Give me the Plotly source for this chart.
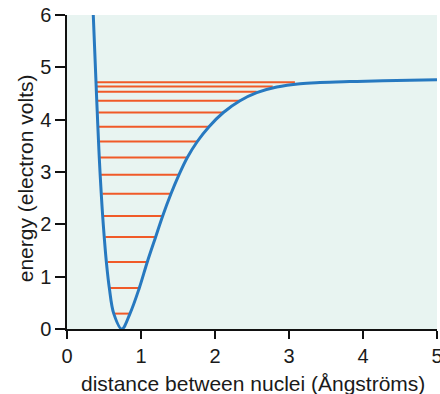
import plotly.graph_objects as go

# Potential energy curve
curve_x = [0.355, 0.392, 0.397, 0.402, 0.409, 0.417, 0.426, 0.436, 0.448, 0.463, 0.482,
           0.503, 0.532, 0.572, 0.632, 0.74, 0.851, 0.977, 1.085, 1.198, 1.293, 1.405,
           1.514, 1.626, 1.761, 1.919, 2.113, 2.338, 2.564, 2.834, 3.149, 3.419, 3.82,
           4.27, 5.0]
curve_y = [6.00, 4.714, 4.535, 4.361, 4.137, 3.866, 3.583, 3.277, 2.949, 2.583, 2.159,
           1.758, 1.280, 0.783, 0.294, 0.00, 0.294, 0.783, 1.280, 1.758, 2.159, 2.583,
           2.949, 3.277, 3.583, 3.866, 4.137, 4.361, 4.516, 4.624, 4.688, 4.71, 4.727,
           4.742, 4.765]

# Vibrational energy levels (energy, left end, right end)
level_e = [0.294, 0.783, 1.280, 1.758, 2.159, 2.583, 2.949, 3.277, 3.583, 3.866,
           4.137, 4.361, 4.535, 4.634, 4.714]
level_x0 = [0.64, 0.581, 0.55, 0.518, 0.495, 0.477, 0.459, 0.446, 0.44, 0.432,
            0.423, 0.414, 0.405, 0.40, 0.40]
level_x1 = [0.851, 0.977, 1.085, 1.198, 1.293, 1.405, 1.514, 1.626, 1.761, 1.919,
            2.113, 2.338, 2.563, 2.78, 3.08]

x_ticks = [0, 1, 2, 3, 4, 5]
y_ticks = [0, 1, 2, 3, 4, 5, 6]
x_title = "distance between nuclei (Ångströms)"
y_title = "energy (electron volts)"

lx, ly = [], []
for e, a, b in zip(level_e, level_x0, level_x1):
    lx += [a, b, None]
    ly += [e, e, None]

fig = go.Figure()
fig.add_trace(go.Scatter(x=lx, y=ly, mode="lines",
                         line=dict(color="#f05a28", width=2), hoverinfo="skip"))
fig.add_trace(go.Scatter(x=curve_x, y=curve_y, mode="lines",
                         line=dict(color="#2779c0", width=3, shape="spline", smoothing=1.0)))

font = "Liberation Sans, Arial, Helvetica, sans-serif"
fig.update_layout(
    width=440, height=394,
    margin=dict(l=67, r=3, t=15, b=65),
    paper_bgcolor="white",
    plot_bgcolor="#e8f4f1",
    showlegend=False,
    font=dict(family=font, size=20, color="#1a1a1a"),
    annotations=[
        dict(text=x_title, xref="paper", yref="paper", x=0.503, y=-0.175,
             xanchor="center", yanchor="middle", showarrow=False, font=dict(size=21)),
        dict(text=y_title, xref="paper", yref="paper", x=-0.1135, y=0.48, textangle=-90,
             xanchor="center", yanchor="middle", showarrow=False, font=dict(size=21)),
    ],
)
fig.update_xaxes(range=[0, 5], tickvals=x_ticks, ticks="outside", ticklen=8, tickwidth=1.5,
                 tickcolor="#111", showline=True, linecolor="#111", linewidth=1.5,
                 showgrid=False, zeroline=False, automargin=False,
                 ticklabeloverflow="allow", tickfont=dict(size=20))
fig.update_yaxes(range=[0, 6], tickvals=y_ticks, ticks="outside", ticklen=10, tickwidth=1.5,
                 tickcolor="#111", showline=True, linecolor="#111", linewidth=1.5,
                 showgrid=False, zeroline=False, automargin=False,
                 ticklabeloverflow="allow", tickfont=dict(size=20))

fig.write_html("out.html", config={"displayModeBar": False},
               post_script="document.body.style.margin='0';document.body.style.overflow='hidden';")
